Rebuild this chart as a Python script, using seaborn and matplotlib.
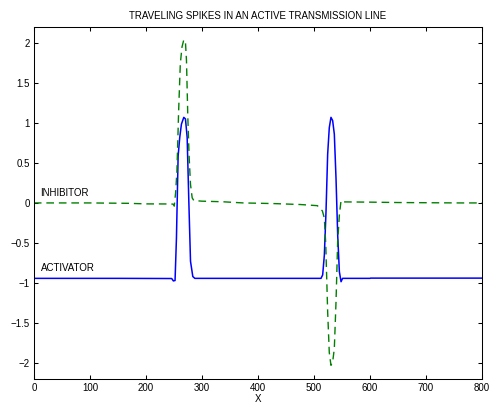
import matplotlib
matplotlib.use('Agg')
import matplotlib.pyplot as plt
import seaborn as sns

# activator (solid blue)
x_act = [0, 150, 246, 249, 252, 254.5, 257.5, 260.4, 263.4, 267.6, 270.6, 273.6, 276.6, 279.6,
         283.7, 287.3, 400, 512.5, 515.5, 518.5, 521.5, 524.4, 527.3, 530.3, 533.3, 536.3,
         539.3, 542.3, 545.3, 548.3, 551, 600, 601, 800]
activator = [-0.943, -0.943, -0.945, -0.975, -0.97, -0.44, 0.587, 0.82, 0.985, 1.07, 1.05, 0.82,
             0.02, -0.73, -0.92, -0.943, -0.943, -0.943, -0.90, -0.65, -0.10, 0.61, 0.94, 1.07,
             1.03, 0.86, 0.31, -0.40, -0.86, -0.985, -0.943, -0.943, -0.94, -0.94]

# inhibitor (dashed green)
x_inh = [0, 100, 170, 200, 244, 248.5, 250.6, 253, 255.4, 258.4, 261.4, 264.4, 267.6, 270.6,
         272.4, 274.8, 277.2, 279.6, 282.6, 285.5, 300, 336, 374, 428, 476, 506, 515, 518.5,
         521, 524.4, 527.3, 530.3, 533.3, 536.3, 539.3, 542.3, 545.3, 548.3, 553, 600, 650,
         760, 800]
inhibitor = [0.0, 0.0, -0.005, -0.012, -0.013, -0.015, -0.04, 0.126, 0.40, 1.15, 1.74, 1.95,
             2.04, 2.01, 1.78, 1.07, 0.566, 0.23, 0.063, 0.03, 0.022, 0.015, 0.0, -0.008, -0.02,
             -0.034, -0.10, -0.19, -0.52, -1.36, -1.87, -2.03, -1.99, -1.82, -1.24, -0.48, -0.15,
             0.03, 0.013, 0.01, 0.005, 0.0, 0.0]

sns.set_style('ticks')
plt.rcParams['font.family'] = ['Liberation Sans', 'DejaVu Sans']
plt.rcParams['text.color'] = 'black'
plt.rcParams['axes.labelcolor'] = 'black'
fs = 7

fig = plt.figure(figsize=(4.98, 4.15), dpi=100)
ax = fig.add_axes([0.068, 0.087, 0.9, 0.848])

sns.lineplot(x=x_act, y=activator, ax=ax, color='#0000ff', lw=1.1, estimator=None)
sns.lineplot(x=x_inh, y=inhibitor, ax=ax, color='#008000', lw=1, estimator=None,
             linestyle=(0, (5.5, 3.5)))

ax.set_xlim(0, 800)
ax.set_ylim(-2.2, 2.2)
ax.set_xticks(range(0, 801, 100))
ax.set_yticks([-2, -1.5, -1, -0.5, 0, 0.5, 1, 1.5, 2])
ax.set_yticklabels(['\u22122', '\u22121.5', '\u22121', '\u22120.5', '0', '0.5', '1', '1.5', '2'])
ax.tick_params(direction='in', length=3, width=0.75, top=True, right=True,
               labelsize=fs, colors='black', pad=3)
for s in ax.spines.values():
    s.set_visible(True)
    s.set_linewidth(0.75)
    s.set_color('black')

ax.text(12, 0.06, 'INHIBITOR', fontsize=fs, va='bottom', color='black')
ax.text(12, -0.88, 'ACTIVATOR', fontsize=fs, va='bottom', color='black')
ax.set_title('TRAVELING SPIKES IN AN ACTIVE TRANSMISSION LINE', fontsize=fs, pad=6, color='black')
ax.set_xlabel('X', fontsize=fs, labelpad=1, color='black')
ax.set_ylabel('')

fig.savefig('out.png', dpi=100)
